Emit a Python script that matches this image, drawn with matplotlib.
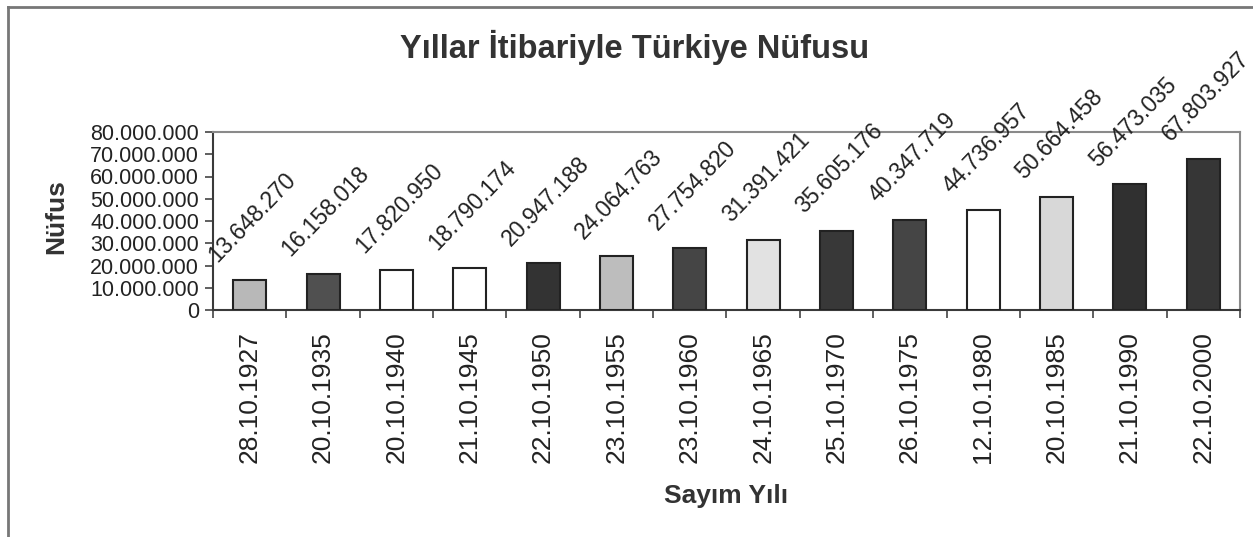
import matplotlib
matplotlib.use('Agg')
import matplotlib.pyplot as plt
from matplotlib.lines import Line2D

# Census dates and population
dates = ['28.10.1927', '20.10.1935', '20.10.1940', '21.10.1945', '22.10.1950',
         '23.10.1955', '23.10.1960', '24.10.1965', '25.10.1970', '26.10.1975',
         '12.10.1980', '20.10.1985', '21.10.1990', '22.10.2000']
population = [13648270, 16158018, 17820950, 18790174, 20947188,
              24064763, 27754820, 31391421, 35605176, 40347719,
              44736957, 50664458, 56473035, 67803927]
bar_colors = ['#b8b8b8', '#505050', '#ffffff', '#ffffff', '#333333',
              '#bdbdbd', '#454545', '#e2e2e2', '#383838', '#454545',
              '#ffffff', '#d8d8d8', '#303030', '#363636']
yticks = list(range(0, 80000001, 10000000))


def tr_fmt(v):
    return f'{int(v):,}'.replace(',', '.')


plt.rcParams['font.family'] = ['Liberation Sans', 'DejaVu Sans']

fig = plt.figure(figsize=(12.53, 5.37), dpi=100)
ax = fig.add_axes([213 / 1253, 1 - 310 / 537, (1240 - 213) / 1253, (310 - 132) / 537])

x = range(len(dates))
ax.bar(x, population, width=0.45, color=bar_colors, edgecolor='#222222', linewidth=1.5, zorder=3)

# Rotated value labels above the bars
for i, v in enumerate(population):
    ax.annotate(tr_fmt(v), (i, v), xytext=(2, 45), textcoords='offset points',
                ha='center', va='center', rotation=46, fontsize=16.5, color='#222222')

ax.set_xlim(-0.5, len(dates) - 0.5)
ax.set_ylim(0, 80000000)
ax.set_yticks(yticks)
ax.set_yticklabels([tr_fmt(t) for t in yticks], fontsize=15.5, color='#222222')
ax.set_xticks(list(x))
ax.set_xticklabels(dates, rotation=90, fontsize=19, color='#222222')
ax.set_xticks([i - 0.5 for i in range(len(dates) + 1)], minor=True)
ax.tick_params(axis='x', which='major', length=0, pad=15)
ax.tick_params(axis='x', which='minor', length=6, width=1.2, color='#444444')
ax.tick_params(axis='y', length=6, width=1.2, color='#444444', pad=4)

for s in ['top', 'right']:
    ax.spines[s].set_color('#8a8a8a')
    ax.spines[s].set_linewidth(1.5)
for s in ['left', 'bottom']:
    ax.spines[s].set_color('#3a3a3a')
    ax.spines[s].set_linewidth(1.5)

fig.text(635 / 1253, 1 - 47 / 537, 'Yıllar İtibariyle Türkiye Nüfusu', ha='center', va='center',
         fontsize=23.5, fontweight='bold', color='#333333')
fig.text(56 / 1253, 1 - 217 / 537, 'Nüfus', ha='center', va='center', rotation=90,
         fontsize=19, fontweight='bold', color='#333333')
fig.text(726 / 1253, 1 - 496 / 537, 'Sayım Yılı', ha='center', va='center',
         fontsize=19, fontweight='bold', color='#333333')

# scanned page border
fig.add_artist(Line2D([8 / 1253, 8 / 1253], [0, 1 - 7 / 537], transform=fig.transFigure,
                      color='#777777', linewidth=2))
fig.add_artist(Line2D([8 / 1253, 1], [1 - 7 / 537, 1 - 7 / 537], transform=fig.transFigure,
                      color='#777777', linewidth=2))

fig.savefig('out.png', dpi=100)
